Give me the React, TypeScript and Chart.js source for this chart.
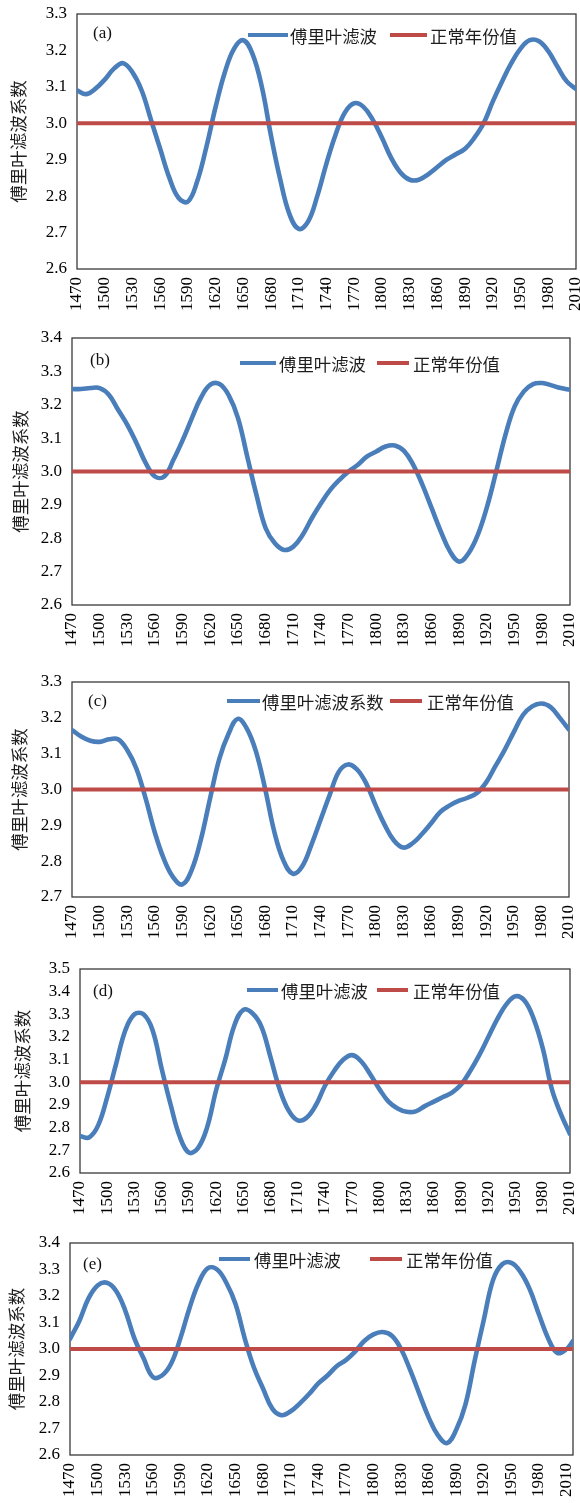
import React, { useEffect, useRef } from "react";
import { Chart, registerables } from "chart.js";

Chart.register(...registerables);

// ---------------- data ----------------
const YEARS = [
  1470, 1480, 1490, 1500, 1510, 1520, 1530, 1540, 1550, 1560,
  1570, 1580, 1590, 1600, 1610, 1620, 1630, 1640, 1650, 1660,
  1670, 1680, 1690, 1700, 1710, 1720, 1730, 1740, 1750, 1760,
  1770, 1780, 1790, 1800, 1810, 1820, 1830, 1840, 1850, 1860,
  1870, 1880, 1890, 1900, 1910, 1920, 1930, 1940, 1950, 1960,
  1970, 1980, 1990, 2000, 2010,
];
const YEARS_E = [...YEARS, 2017];

const SERIES_A = [
  3.09, 3.08, 3.095, 3.12, 3.15, 3.165, 3.14, 3.09, 3.01, 2.93,
  2.85, 2.795, 2.785, 2.84, 2.935, 3.045, 3.14, 3.205, 3.228, 3.19,
  3.1, 2.965, 2.845, 2.75, 2.71, 2.73, 2.8, 2.89, 2.97, 3.03,
  3.055, 3.045, 3.01, 2.96, 2.905, 2.865, 2.845, 2.845, 2.86, 2.88,
  2.9, 2.915, 2.93, 2.96, 3.0, 3.06, 3.115, 3.165, 3.205, 3.228,
  3.225, 3.198, 3.155, 3.115, 3.094,
];
const SERIES_B = [
  3.247, 3.247, 3.25, 3.25, 3.23, 3.185, 3.14, 3.085, 3.025, 2.985,
  2.985, 3.035, 3.094, 3.16, 3.222, 3.26, 3.262, 3.228, 3.16, 3.045,
  2.93, 2.83, 2.785, 2.765, 2.775, 2.81, 2.86, 2.905, 2.945, 2.975,
  3.0, 3.02, 3.045, 3.06, 3.075, 3.078, 3.062, 3.02, 2.96, 2.89,
  2.82, 2.76, 2.73, 2.755, 2.81, 2.894, 3.0, 3.11, 3.195, 3.24,
  3.262, 3.265, 3.258, 3.25, 3.245,
];
const SERIES_C = [
  3.166, 3.148, 3.136, 3.133, 3.14, 3.14, 3.11, 3.058, 2.975, 2.88,
  2.805, 2.755, 2.735, 2.775, 2.86, 2.975, 3.085, 3.155, 3.197, 3.17,
  3.105, 3.0, 2.88, 2.8, 2.765, 2.785, 2.845, 2.915, 2.985, 3.05,
  3.07, 3.055, 3.015, 2.955, 2.9, 2.857, 2.838, 2.85, 2.875, 2.905,
  2.937, 2.955, 2.968, 2.977, 2.99, 3.02, 3.065, 3.11, 3.16, 3.208,
  3.232, 3.24, 3.23, 3.2, 3.167,
];
const SERIES_D = [
  2.763, 2.757, 2.81, 2.935, 3.085, 3.23, 3.3, 3.3, 3.23, 3.06,
  2.9, 2.76, 2.69, 2.71, 2.8, 2.965, 3.1, 3.25, 3.32, 3.305,
  3.245, 3.11, 2.97, 2.875, 2.832, 2.845, 2.9, 2.985, 3.05, 3.1,
  3.12, 3.092, 3.035, 2.97, 2.915, 2.885, 2.87, 2.872, 2.895, 2.915,
  2.935, 2.955, 2.99, 3.05, 3.12, 3.2, 3.28, 3.345, 3.38, 3.36,
  3.28, 3.15, 2.97, 2.86, 2.772,
];
const SERIES_E = [
  3.038, 3.105, 3.19, 3.24, 3.25, 3.22, 3.146, 3.04, 2.965, 2.895,
  2.9, 2.945, 3.04, 3.155, 3.25, 3.305, 3.3, 3.25, 3.17, 3.04,
  2.93, 2.85, 2.775, 2.75, 2.765, 2.795, 2.83, 2.87, 2.9, 2.935,
  2.958, 2.99, 3.03, 3.055, 3.064, 3.05, 3.0, 2.92, 2.83, 2.742,
  2.675, 2.645, 2.695, 2.79, 2.955, 3.11, 3.26, 3.32, 3.325, 3.29,
  3.225, 3.13, 3.04, 2.985, 3.0, 3.03,
];

const NORMAL_VALUE = 3.0;
const Y_TITLE = "傅里叶滤波系数";
const NAME_FOURIER = "傅里叶滤波";
const NAME_FOURIER_C = "傅里叶滤波系数";
const NAME_NORMAL = "正常年份值";
const PANEL_LABELS = ["(a)", "(b)", "(c)", "(d)", "(e)"];
const X_STEP = 30;
const Y_STEP = 0.1;

// ---------------- styling / layout ----------------
const BLUE = "#4A7EBB";
const RED = "#BE4B48";
const TICK_FONT = '"Liberation Serif", "DejaVu Serif", serif';
const CJK_FONT = '"Noto Sans CJK SC", "Noto Sans", sans-serif';

type Box = { l: number; r: number; t: number; b: number };
type Legend = { b0: number; b1: number; bt: number; r0: number; r1: number; rt: number; y: number };
type PanelCfg = {
  label: string;
  years: number[];
  values: number[];
  name: string;
  yMin: number;
  yMax: number;
  xMax: number;
  box: Box;
  titleX: number;
  legend: Legend;
  labelPos: { x: number; y: number };
};

const PANELS: PanelCfg[] = [
  {
    label: PANEL_LABELS[0], years: YEARS, values: SERIES_A, name: NAME_FOURIER,
    yMin: 2.6, yMax: 3.3, xMax: 2010,
    box: { l: 77, r: 576, t: 14, b: 269 }, titleX: 18,
    legend: { b0: 248, b1: 288, bt: 290, r0: 390, r1: 427, rt: 430, y: 35 },
    labelPos: { x: 93, y: 34 },
  },
  {
    label: PANEL_LABELS[1], years: YEARS, values: SERIES_B, name: NAME_FOURIER,
    yMin: 2.6, yMax: 3.4, xMax: 2010,
    box: { l: 72, r: 570, t: 338, b: 605 }, titleX: 20,
    legend: { b0: 240, b1: 276, bt: 279, r0: 377, r1: 409, rt: 413, y: 363 },
    labelPos: { x: 90, y: 361 },
  },
  {
    label: PANEL_LABELS[2], years: YEARS, values: SERIES_C, name: NAME_FOURIER_C,
    yMin: 2.7, yMax: 3.3, xMax: 2010,
    box: { l: 72, r: 569, t: 682, b: 897 }, titleX: 19,
    legend: { b0: 227, b1: 260, bt: 262, r0: 390, r1: 422, rt: 427, y: 701 },
    labelPos: { x: 88, y: 702 },
  },
  {
    label: PANEL_LABELS[3], years: YEARS, values: SERIES_D, name: NAME_FOURIER,
    yMin: 2.6, yMax: 3.5, xMax: 2010,
    box: { l: 80, r: 570, t: 969, b: 1173 }, titleX: 22,
    legend: { b0: 247, b1: 278, bt: 281, r0: 377, r1: 408, rt: 413, y: 990 },
    labelPos: { x: 93, y: 992 },
  },
  {
    label: PANEL_LABELS[4], years: YEARS_E, values: SERIES_E, name: NAME_FOURIER,
    yMin: 2.6, yMax: 3.4, xMax: 2017,
    box: { l: 70, r: 573, t: 1243, b: 1455 }, titleX: 16,
    legend: { b0: 219, b1: 250, bt: 254, r0: 370, r1: 402, rt: 406, y: 1259 },
    labelPos: { x: 83, y: 1265 },
  },
];

const WIDTH = 580;

function Panel({ cfg }: { cfg: PanelCfg }) {
  const ref = useRef<HTMLCanvasElement | null>(null);
  const canvasTop = Math.max(0, cfg.box.t - 24);
  const canvasH = cfg.box.b + 62 - canvasTop;

  useEffect(() => {
    const canvas = ref.current;
    if (!canvas) return;
    const off = canvasTop;

    const decor = {
      id: "decor",
      beforeDatasetsDraw(chart: any) {
        const { ctx, chartArea } = chart;
        ctx.save();
        ctx.strokeStyle = "#3a3a3a";
        ctx.lineWidth = 1.3;
        ctx.strokeRect(chartArea.left, chartArea.top, chartArea.right - chartArea.left, chartArea.bottom - chartArea.top);
        ctx.restore();
      },
      afterDraw(chart: any) {
        const { ctx } = chart;
        const ds = chart.data.datasets;
        const lg = cfg.legend;
        const y = lg.y - off;
        ctx.save();
        ctx.lineWidth = 4;
        ctx.lineCap = "butt";
        const blue = ds.find((d: any) => d.borderColor === BLUE);
        const red = ds.find((d: any) => d.borderColor === RED);
        ctx.strokeStyle = BLUE;
        ctx.beginPath();
        ctx.moveTo(lg.b0, y);
        ctx.lineTo(lg.b1, y);
        ctx.stroke();
        ctx.strokeStyle = RED;
        ctx.beginPath();
        ctx.moveTo(lg.r0, y);
        ctx.lineTo(lg.r1, y);
        ctx.stroke();
        ctx.fillStyle = "#1e1e1e";
        ctx.textBaseline = "middle";
        ctx.textAlign = "left";
        ctx.font = `17.4px ${CJK_FONT}`;
        ctx.fillText(blue ? blue.label : "", lg.bt, y + 1);
        ctx.fillText(red ? red.label : "", lg.rt, y + 1);
        ctx.font = `17px ${TICK_FONT}`;
        ctx.fillStyle = "#111";
        ctx.fillText(cfg.label, cfg.labelPos.x, cfg.labelPos.y - off);
        ctx.restore();
      },
    };

    const chart = new Chart(canvas, {
      type: "line",
      data: {
        datasets: [
          {
            label: NAME_NORMAL,
            data: [
              { x: cfg.years[0], y: NORMAL_VALUE },
              { x: cfg.xMax, y: NORMAL_VALUE },
            ],
            borderColor: RED,
            backgroundColor: RED,
            borderWidth: 4,
            pointRadius: 0,
            tension: 0,
          },
          {
            label: cfg.name,
            data: cfg.years.map((yr, i) => ({ x: yr, y: cfg.values[i] })),
            borderColor: BLUE,
            backgroundColor: BLUE,
            borderWidth: 4.6,
            pointRadius: 0,
            tension: 0.4,
            borderCapStyle: "round",
            borderJoinStyle: "round",
          },
        ],
      },
      options: {
        animation: false,
        responsive: false,
        devicePixelRatio: 1,
        layout: {
          padding: { left: 0, top: cfg.box.t - canvasTop, right: WIDTH - cfg.box.r, bottom: 0 },
        },
        plugins: {
          legend: { display: false },
          tooltip: { enabled: false },
        },
        scales: {
          x: {
            type: "linear",
            min: cfg.years[0],
            max: cfg.xMax,
            grid: { display: false, drawTicks: false },
            border: { display: false },
            ticks: {
              stepSize: X_STEP,
              includeBounds: false,
              autoSkip: false,
              minRotation: 90,
              maxRotation: 90,
              padding: 8,
              color: "#000",
              font: { family: TICK_FONT, size: 17 },
              callback: (v: any) => String(v),
            },
            afterFit: (s: any) => {
              s.height = canvasH - (cfg.box.b - canvasTop);
              s.paddingLeft = 0;
              s.paddingRight = 0;
            },
          },
          y: {
            type: "linear",
            min: cfg.yMin,
            max: cfg.yMax,
            grid: { display: false, drawTicks: false },
            border: { display: false },
            ticks: {
              stepSize: Y_STEP,
              autoSkip: false,
              padding: 10,
              color: "#000",
              font: { family: TICK_FONT, size: 17 },
              callback: (v: any) => Number(v).toFixed(1),
            },
            title: {
              display: true,
              text: Y_TITLE,
              color: "#1e1e1e",
              font: { family: CJK_FONT, size: 17.5 },
              padding: { top: cfg.titleX - 10.5, bottom: 0 },
            },
            afterFit: (s: any) => {
              s.width = cfg.box.l;
              s.paddingTop = 0;
              s.paddingBottom = 0;
            },
          },
        },
      },
      plugins: [decor],
    } as any);

    return () => chart.destroy();
  }, [cfg]);

  return (
    <canvas
      ref={ref}
      width={WIDTH}
      height={canvasH}
      style={{ position: "absolute", left: 0, top: canvasTop, width: WIDTH, height: canvasH }}
    />
  );
}

export default function App() {
  return (
    <div
      style={{
        position: "absolute",
        left: 0,
        top: 0,
        width: WIDTH,
        height: 1503,
        overflow: "hidden",
        background: "#fff",
      }}
    >
      {PANELS.map((p) => (
        <Panel key={p.label} cfg={p} />
      ))}
    </div>
  );
}
